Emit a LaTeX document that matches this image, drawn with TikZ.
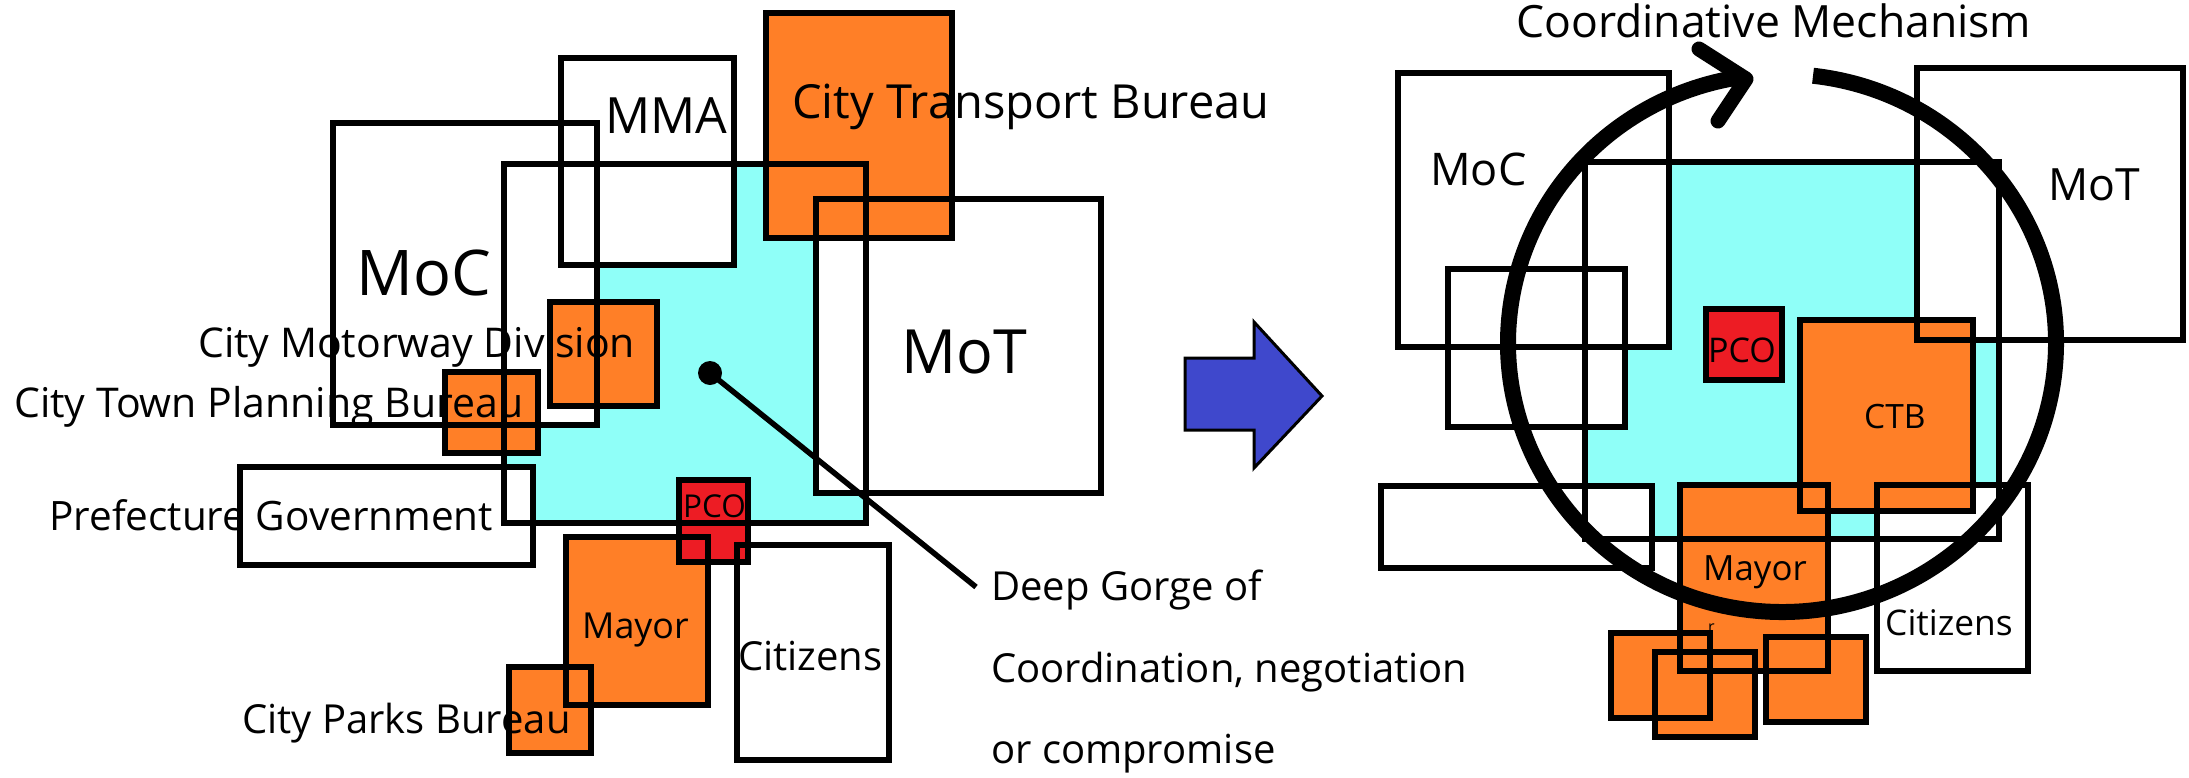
\documentclass[tikz,border=0pt]{standalone}
\usepackage{fontspec}
\setmainfont{Open Sans}
\definecolor{cyanfill}{HTML}{8FFFF8}
\definecolor{orangefill}{HTML}{FF7F27}
\definecolor{redfill}{HTML}{ED1C24}
\definecolor{bluefill}{HTML}{3F48CC}
\begin{document}
\begin{tikzpicture}[x=1pt,y=-1pt,
  txt/.style={inner sep=0pt, anchor=base west, font=\fontsize{#1}{#1}\selectfont},
  outline/.style={draw=black, line width=6pt},
  ring/.style={draw=black, line width=16pt},
  barb/.style={draw=black, line width=15pt, line cap=round, line join=round},
  bigarrow/.style={fill=bluefill, draw=black, line width=3pt, line join=miter},
]
\useasboundingbox (0,0) rectangle (2189,777);

% ---------- fills (bottom to top) ----------
\fill[cyanfill] (504,164) rectangle (866,523);
\fill[cyanfill] (1585,162) rectangle (1999,539);
\foreach \a/\b/\c/\d in {333/123/597/425, 561/58/734/265, 816/199/1101/493,
   240/467/533/565, 737/545/889/760, 1398/73/1669/347, 1917/68/2183/340,
   1448/269/1625/427, 1381/486/1652/568, 1877/485/2028/671}
  \fill[white] (\a,\b) rectangle (\c,\d);
\foreach \a/\b/\c/\d in {766/13/952/238, 550/302/657/406, 445/372/538/453,
   566/537/708/705, 509/667/591/753, 1800/320/1973/511, 1680/485/1828/671,
   1611/633/1710/718, 1655/652/1755/737, 1766/637/1866/722}
  \fill[orangefill] (\a,\b) rectangle (\c,\d);
\foreach \a/\b/\c/\d in {679/480/748/562, 1706/309/1782/380}
  \fill[redfill] (\a,\b) rectangle (\c,\d);

% ---------- outlines ----------
\foreach \a/\b/\c/\d in {504/164/866/523, 1585/162/1999/539,
   333/123/597/425, 561/58/734/265, 816/199/1101/493,
   240/467/533/565, 737/545/889/760, 1398/73/1669/347, 1917/68/2183/340,
   1448/269/1625/427, 1381/486/1652/568, 1877/485/2028/671,
   766/13/952/238, 550/302/657/406, 445/372/538/453,
   566/537/708/705, 509/667/591/753, 1800/320/1973/511, 1680/485/1828/671,
   1611/633/1710/718, 1655/652/1755/737, 1766/637/1866/722,
   679/480/748/562, 1706/309/1782/380}
  \draw[outline] (\a,\b) rectangle (\c,\d);

% ---------- left labels ----------
\node[txt=47] (ctbL) at (792,118) {City Transport Bureau};
\node[txt=50] (mmaL) at (605,133) {MMA};
\node[txt=63] (mocL) at (356,295) {MoC};
\node[txt=61] (motL) at (901,373) {MoT};
\node[txt=41] (cmd) at (198,357) {City Motorway Division};
\node[txt=41] (ctpb) at (14,417) {City Town Planning Bureau};
\node[txt=40.5] (pref) at (49,530) {Prefecture Government};
\node[txt=31.5] (pcoL) at (683,517) {PCO};
\node[txt=35.8] (mayorL) at (582,638) {Mayor};
\node[txt=40] (cpb) at (242,733) {City Parks Bureau};
\node[txt=40] (citL) at (738,670) {Citizens};
\node[txt=40] (gorge1) at (991,600) {Deep Gorge of};
\node[txt=40] (gorge2) at (991,682) {Coordination, negotiation};
\node[txt=40] (gorge3) at (991,763) {or compromise};

% dot and leader line
\node[circle, fill=black, inner sep=0pt, minimum size=24pt] (dot) at (710,373) {};
\coordinate (gorgeEnd) at (976,587);
\draw[line width=5.5pt] (dot.center) -- (gorgeEnd);

% ---------- blue arrow ----------
\draw[bigarrow] (1185,358) -- (1254,358) -- (1254,322) -- (1322,396)
  -- (1254,468) -- (1254,430) -- (1185,430) -- cycle;

% ---------- right labels ----------
\node[txt=44.5] (coord) at (1516,37) {Coordinative Mechanism};
\node[txt=45] (mocR) at (1430,185) {MoC};
\node[txt=44.5] (motR) at (2048,200) {MoT};
\node[txt=34] (pcoR) at (1708,362) {PCO};
\node[txt=33.5] (ctbR) at (1864,428) {CTB};
\node[txt=34.8] (mayorR) at (1703,580) {Mayor};
\node[txt=35.3] (citR) at (1885,635) {Citizens};
\node[txt=16] (rglyph) at (1708,632) {r};

% ---------- coordinative ring ----------
\coordinate (ringC) at (1782,343);
\draw[ring] (ringC) ++(-83.5:274 and 269)
  arc[start angle=-83.5, end angle=262, x radius=274, y radius=269];
\coordinate (tipA) at (1699,49);
\coordinate (tip) at (1746,79);
\coordinate (tipB) at (1718,121);
\draw[barb] (tipA) -- (tip) -- (tipB);
\end{tikzpicture}
\end{document}
